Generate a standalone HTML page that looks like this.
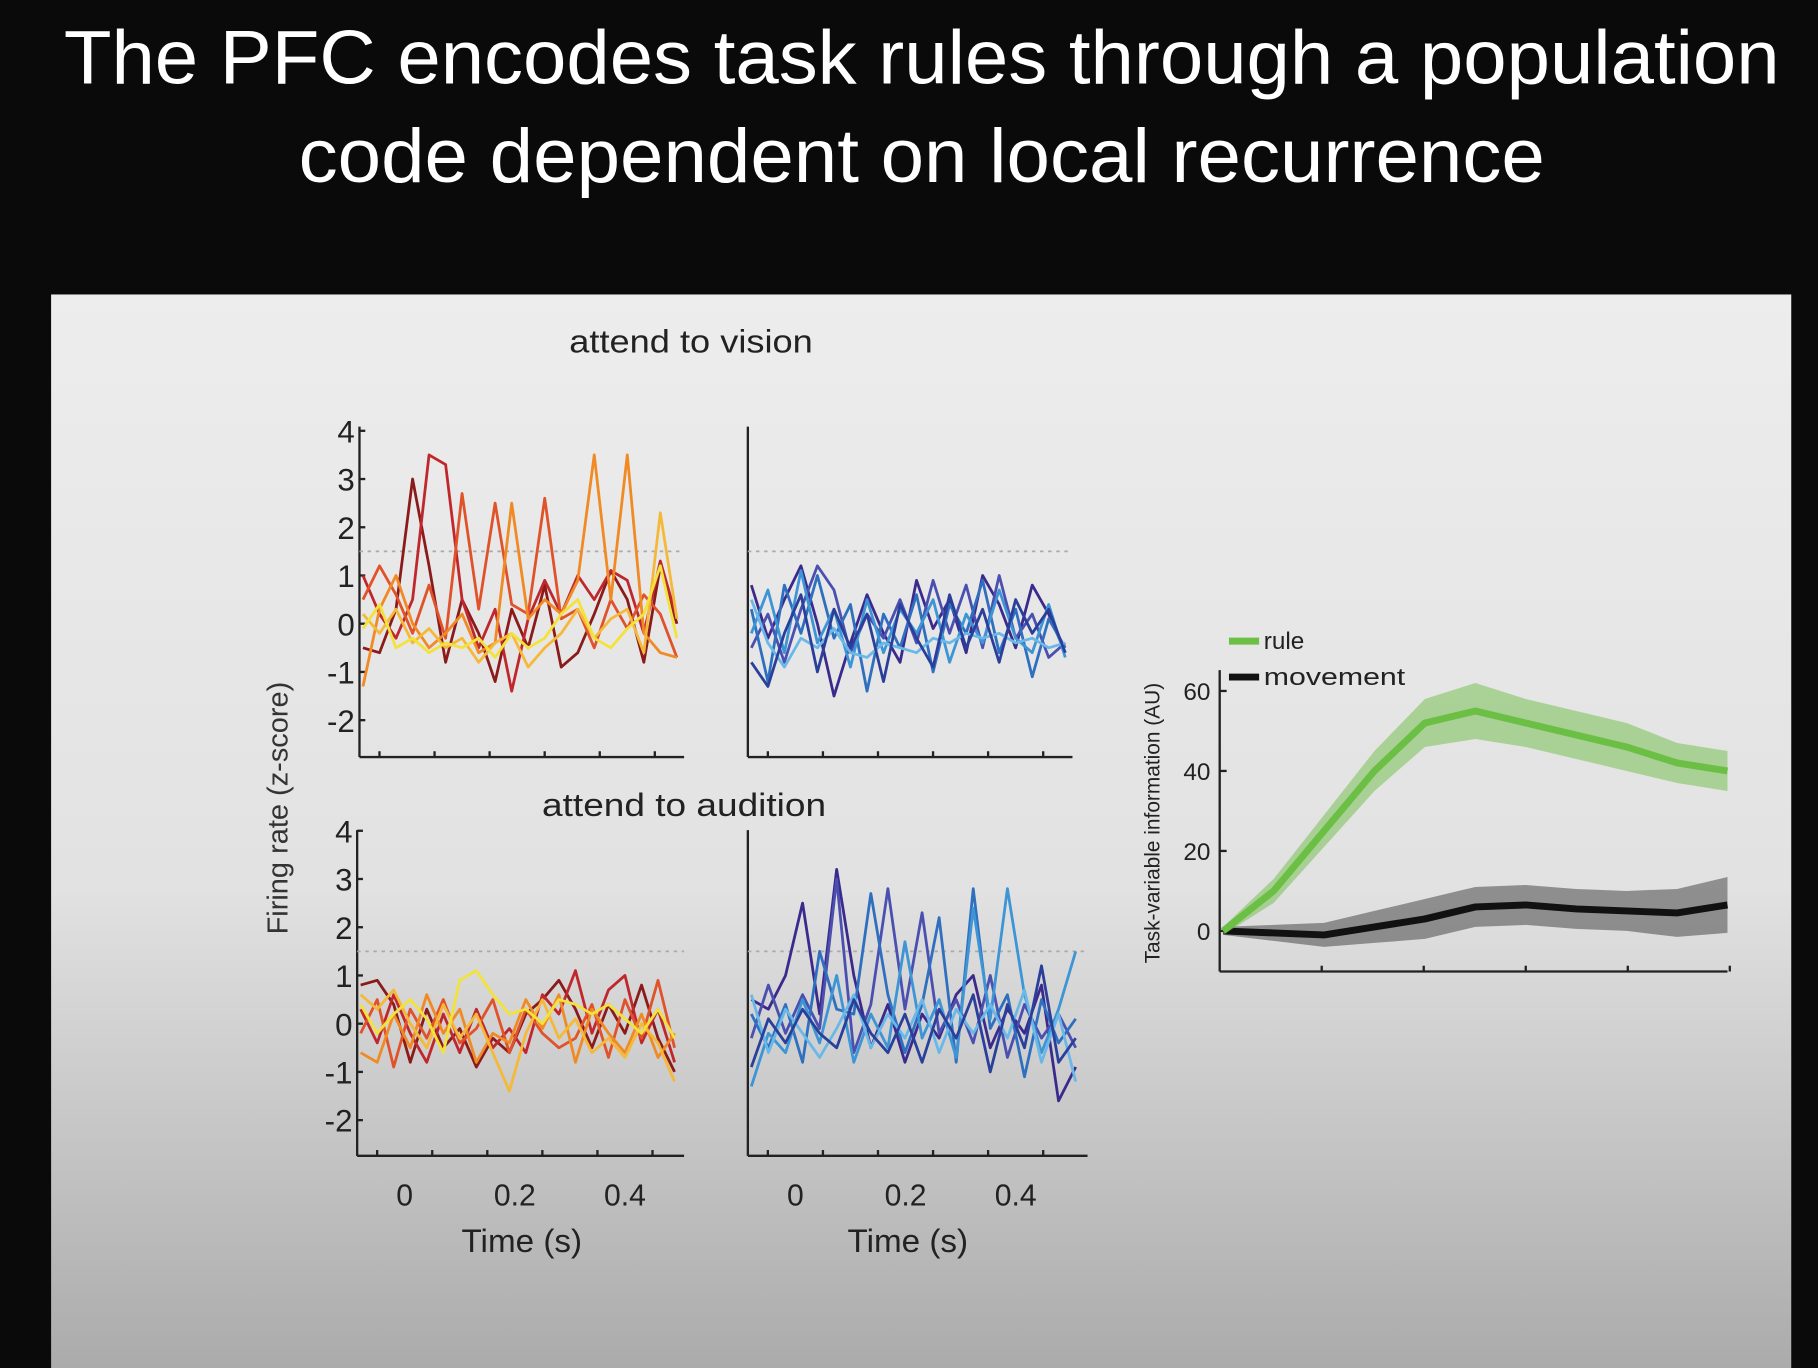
<!DOCTYPE html>
<html><head><meta charset="utf-8"><style>
html,body{margin:0;padding:0;background:#0a0a0a;width:1818px;height:1368px;overflow:hidden}
svg{display:block;font-family:"Liberation Sans",sans-serif}
</style></head><body>
<svg id="root" width="1818" height="1368" viewBox="0 0 1568 1180" xmlns="http://www.w3.org/2000/svg">
<defs><linearGradient id="pg" x1="0" y1="0" x2="0" y2="1"><stop offset="0" stop-color="#ededed"/><stop offset="0.55" stop-color="#e2e2e2"/><stop offset="1" stop-color="#ababab"/></linearGradient></defs>
<rect x="0" y="0" width="1568" height="1180" fill="#0a0a0a"/>
<text x="795" y="72" fill="#fff" font-size="66" text-anchor="middle" textLength="1480" lengthAdjust="spacingAndGlyphs">The PFC encodes task rules through a population</text>
<text x="795" y="157" fill="#fff" font-size="66" text-anchor="middle" textLength="1075" lengthAdjust="spacingAndGlyphs">code dependent on local recurrence</text>
<rect x="44" y="254" width="1501" height="926" fill="url(#pg)"/>
<text x="596" y="304" font-size="28" fill="#222" text-anchor="middle" textLength="210" lengthAdjust="spacingAndGlyphs">attend to vision</text>
<text x="590" y="704" font-size="28" fill="#222" text-anchor="middle" textLength="245" lengthAdjust="spacingAndGlyphs">attend to audition</text>
<text transform="translate(248,697) rotate(-90)" font-size="25" fill="#333" text-anchor="middle">Firing rate (z-score)</text>
<text x="450" y="1080" font-size="28" fill="#222" text-anchor="middle" textLength="104" lengthAdjust="spacingAndGlyphs">Time (s)</text>
<text x="783" y="1080" font-size="28" fill="#222" text-anchor="middle" textLength="104" lengthAdjust="spacingAndGlyphs">Time (s)</text>
<g id="charts"></g>
</svg>
<script>
const NS="http://www.w3.org/2000/svg";
const root=document.getElementById('charts');
const yTicks=[4,3,2,1,0,-1,-2];
const xTicks=[0,0.2,0.4];
const xTickLabels=["0","0.2","0.4"];
const warmColors=["#8b1a1a","#c0272d","#e0522a","#f08a24","#f5b93a","#f2e23a"];
const coolColors=["#3b2a8c","#4b4fb0","#2f6fbf","#3d95d6","#6ab8e8","#2a3f9a"];
const tStart=-0.08, tStep=0.03;
const visionWarm=[
[-0.5,-0.6,0.3,3.0,1.2,-0.8,0.5,-0.2,-1.2,0.3,-0.5,0.8,-0.9,-0.6,0.2,1.1,0.5,-0.8,1.2,0],
[1.0,0.2,-0.3,0.5,3.5,3.3,0.5,-0.5,0.3,-1.4,0.1,0.9,0.2,1.0,0.5,1.1,0.9,-0.2,1.3,0.1],
[0.5,1.2,0.6,-0.2,0.8,-0.3,2.7,0.3,2.5,0.4,0.2,2.6,0.1,0.3,-0.5,0.5,-0.1,0.6,0.2,-0.7],
[-1.3,0.3,1.0,0.0,-0.5,-0.2,0.2,-0.6,-0.4,2.5,0.1,0.5,0.2,0.9,3.5,0.5,3.5,-0.2,-0.6,-0.7],
[0.2,-0.2,0.3,-0.4,-0.1,-0.5,-0.3,-0.8,-0.4,-0.2,-0.9,-0.5,-0.2,0.3,-0.3,0.1,0.3,-0.6,2.3,0.1],
[-0.1,0.4,-0.5,-0.3,-0.6,-0.4,-0.5,-0.3,-0.7,-0.2,-0.5,-0.3,0.2,0.5,-0.3,-0.5,-0.1,0.2,1.2,-0.3]];
const visionCool=[
[0.8,-0.3,0.5,1.2,0.0,-1.5,-0.4,0.6,-0.2,-0.8,0.9,-0.1,0.5,-0.6,1.0,0.4,-0.5,0.8,0.2,-0.6],
[-0.5,0.2,-0.8,0.3,1.2,0.7,-0.6,0.2,-0.3,0.5,-0.4,0.9,-0.2,0.8,-0.5,1.0,-0.3,0.2,-0.7,-0.4],
[0.3,-1.2,0.8,-0.2,1.0,-0.3,0.4,-1.4,0.2,-0.5,0.6,-1.0,0.4,-0.2,0.9,-0.6,0.3,-1.1,0.1,-0.5],
[-0.2,0.7,-0.6,1.1,-0.4,0.3,-0.9,0.5,-0.6,0.3,-0.2,0.5,-0.8,0.2,-0.4,0.7,-0.3,-0.6,0.4,-0.7],
[0.5,-0.4,-0.9,-0.3,-0.5,-0.1,-0.6,-0.7,-0.4,-0.5,-0.6,-0.3,-0.4,-0.2,-0.3,-0.2,-0.4,-0.3,-0.5,-0.4],
[-0.8,-1.3,-0.2,0.6,-1.0,0.3,-0.5,0.2,-1.2,0.4,-0.3,-0.9,0.6,-0.5,0.3,-0.8,0.5,-0.2,0.3,-0.6]];
const auditionWarm=[
[0.8,0.9,0.4,-0.8,0.3,-0.5,-0.1,-0.9,-0.3,-0.6,0.2,0.5,0.9,0.3,-0.5,0.4,-0.2,0.8,-0.3,-1.0],
[0.3,-0.4,0.6,-0.2,-0.8,0.2,-0.6,0.3,-0.5,-0.1,-0.6,0.6,0.2,1.1,-0.2,0.7,1.0,-0.4,0.3,-0.8],
[-0.2,0.5,-0.9,0.3,-0.3,0.5,-0.4,-0.1,0.5,-0.6,0.3,-0.2,-0.5,-0.3,0.4,-0.7,0.5,-0.3,0.9,-0.5],
[-0.6,-0.8,0.2,-0.5,0.6,-0.2,0.3,-0.8,-0.2,-0.4,0.5,-0.1,0.6,-0.8,0.3,-0.2,-0.6,0.2,-0.7,-0.2],
[0.6,0.3,0.7,0.0,-0.5,0.4,-0.3,0.2,-0.6,-1.4,-0.2,0.5,-0.3,0.1,-0.6,-0.3,-0.7,0.0,-0.4,-1.2],
[0.4,-0.2,0.2,0.5,0.1,-0.6,0.9,1.1,0.6,0.2,0.3,0.0,0.5,0.4,0.2,0.4,0.1,-0.2,0.3,-0.3]];
const auditionCool=[
[0.5,0.3,1.0,2.5,0.2,3.2,1.0,-0.5,0.4,-0.8,0.2,-0.3,0.6,1.0,-0.5,0.3,-0.2,0.8,-1.6,-0.9],
[-0.3,0.8,-0.2,0.6,-0.1,3.0,-0.6,0.4,2.8,0.3,2.3,-0.2,0.5,-0.4,1.0,-0.7,0.4,-0.3,0.2,-0.5],
[0.2,-0.5,0.4,-0.8,1.5,0.3,0.2,2.7,0.6,-0.6,0.4,2.2,-0.8,2.8,-0.1,0.6,-1.1,0.5,-0.4,0.1],
[-1.3,-0.2,-0.6,0.5,-0.4,1.0,-0.8,0.2,-0.5,1.7,-0.3,0.5,-0.7,2.4,0.1,2.8,0.6,-0.6,0.3,1.5],
[0.6,-0.6,0.3,-0.2,-0.7,-0.1,0.6,-0.5,0.2,-0.3,0.5,-0.6,0.3,-0.2,0.4,-0.3,0.7,-0.8,0.2,-1.2],
[-0.9,0.1,-0.4,0.3,-0.2,-0.5,0.5,-0.2,-0.6,0.2,-0.8,0.3,-0.3,0.6,-1.0,0.4,-0.5,1.2,-0.8,-0.3]];
const infoTime=[0,1,2,3,4,5,6,7,8,9,10];
const ruleMean=[0,10,25,40,52,55,52,49,46,42,40];
const ruleErr=[1,3,4,5,6,7,6,6,6,5,5];
const moveMean=[0,-0.5,-1,1,3,6,6.5,5.5,5,4.5,6.5];
const moveErr=[1,2,3,4,5,5,5,5,5,6,7];
const infoTicks=[0,20,40,60];

function el(tag,attrs,parent){const e=document.createElementNS(NS,tag);for(const k in attrs)e.setAttribute(k,attrs[k]);(parent||root).appendChild(e);return e;}

function panel(name,ax,ay0,ytop,ybot,xEnd,zero,data,colors,showY,showX,tStepLocal){
  const g=el('g',{});
  
  
  const Y=v=>zero-v*41.6;
  const X=t=>(ax+41)+t*475;
  const ax0=ax;
  el('line',{x1:ax0,y1:ytop,x2:ax0,y2:ybot,stroke:'#222','stroke-width':2},g);
  el('line',{x1:ax0,y1:ybot,x2:xEnd,y2:ybot,stroke:'#222','stroke-width':2},g);
  el('line',{x1:ax0,y1:Y(1.5),x2:xEnd,y2:Y(1.5),stroke:'#aaa','stroke-width':1.5,'stroke-dasharray':'3,4'},g);
  for(let tt=-0.05;tt<=0.55;tt+=0.1){const x=X(tt);if(x>ax0+4&&x<xEnd+2)el('line',{x1:x,y1:ybot,x2:x,y2:ybot-5,stroke:'#222','stroke-width':2},g);}
  if(showY){yTicks.forEach(v=>{el('line',{x1:ax0,y1:Y(v),x2:ax0+5,y2:Y(v),stroke:'#222','stroke-width':2},g);
    const t=el('text',{x:ax0-4,y:Y(v)+10,'font-size':27,fill:'#222','text-anchor':'end'},g);t.textContent=String(v);
    
    });}
  if(showX){xTicks.forEach((v,i)=>{const t=el('text',{x:X(v),y:1040,'font-size':26,fill:'#222','text-anchor':'middle'},g);t.textContent=xTickLabels[i];
    
    });}
  data.forEach((s,si)=>{const pts=s.map((v,i)=>X(tStart+i*tStepLocal).toFixed(1)+','+Y(v).toFixed(1)).join(' ');
    const p=el('polyline',{points:pts,fill:'none',stroke:colors[si],'stroke-width':2.4,'stroke-linejoin':'round'},g);
    
    });
}
panel('vision-rule1-panel',310,538,368,653,590,538,visionWarm,warmColors,true,false,0.03);
panel('vision-rule2-panel',645,538,368,653,925,538,visionCool,coolColors,false,false,0.03);
panel('audition-rule1-panel',308,883,716,997,590,883,auditionWarm,warmColors,true,true,0.03);
panel('audition-rule2-panel',645,883,716,997,938,883,auditionCool,coolColors,false,true,0.031);

(function(){
  const g=el('g',{});
  
  
  const X=i=>1055+i*43.5, Y=v=>803-v*3.45;
  el('line',{x1:1052,y1:578,x2:1052,y2:838,stroke:'#222','stroke-width':2},g);
  el('line',{x1:1052,y1:838,x2:1490,y2:838,stroke:'#222','stroke-width':2},g);
  for(let i=1;i<=5;i++)el('line',{x1:1052+i*88,y1:838,x2:1052+i*88,y2:833,stroke:'#222','stroke-width':2},g);
  infoTicks.forEach(v=>{el('line',{x1:1052,y1:Y(v),x2:1058,y2:Y(v),stroke:'#222','stroke-width':2},g);
    const t=el('text',{x:1044,y:Y(v)+8,'font-size':21,fill:'#222','text-anchor':'end'},g);t.textContent=v;
    
    });
  const yl=el('text',{transform:'translate(1000,710) rotate(-90)','font-size':18,fill:'#222','text-anchor':'middle'},g);yl.textContent='Task-variable information (AU)';
  
  
  function band(mean,err,fill,stroke,name){
    const up=infoTime.map((t,i)=>X(t)+','+Y(mean[i]+err[i]));
    const dn=infoTime.map((t,i)=>X(t)+','+Y(mean[i]-err[i])).reverse();
    const b=el('polygon',{points:up.concat(dn).join(' '),fill:fill},g);
    
    
    const l=el('polyline',{points:infoTime.map((t,i)=>X(t)+','+Y(mean[i])).join(' '),fill:'none',stroke:stroke,'stroke-width':6,'stroke-linejoin':'round'},g);
    
    
  }
  band(moveMean,moveErr,'rgba(60,60,60,0.5)','#111','movement');
  band(ruleMean,ruleErr,'rgba(110,190,70,0.5)','#6cbf45','rule');
  el('line',{x1:1060,y1:553,x2:1086,y2:553,stroke:'#6cbf45','stroke-width':6},g);
  el('line',{x1:1060,y1:584,x2:1086,y2:584,stroke:'#111','stroke-width':6},g);
  const t1=el('text',{x:1090,y:560,'font-size':21,fill:'#222'},g);t1.textContent='rule';
  
  
  const t2=el('text',{x:1090,y:591,'font-size':21,fill:'#222','textLength':122,'lengthAdjust':'spacingAndGlyphs'},g);t2.textContent='movement';
  
  
})();
</script>
</body></html>
